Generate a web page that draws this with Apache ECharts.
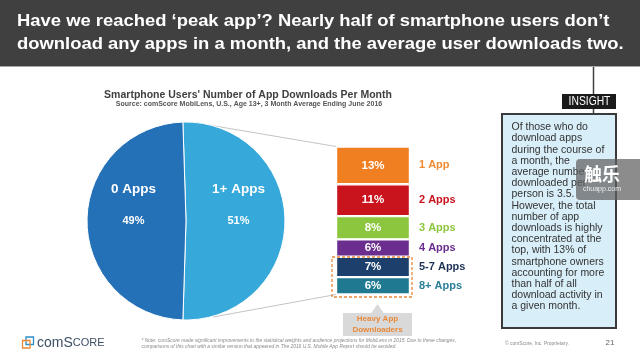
<!DOCTYPE html>
<html><head><meta charset="utf-8">
<script src="https://cdn.jsdelivr.net/npm/echarts@6/dist/echarts.min.js"></script>
<style>html,body{margin:0;padding:0;background:#fff}#c{width:640px;height:360px}</style>
</head><body><div id="c"></div>
<script>
const headerLines = ["Have we reached \u2018peak app\u2019? Nearly half of smartphone users don\u2019t", "download any apps in a month, and the average user downloads two."];
const chartTitle = "Smartphone Users' Number of App Downloads Per Month";
const chartSource = "Source: comScore MobiLens, U.S., Age 13+, 3 Month Average Ending June 2016";
const pieLabels = ["1+ Apps", "0 Apps"];
const pieValues = [51, 49];
const pieColors = ["#37a8da", "#2471b8"];
const bucketLabels = ["1 App", "2 Apps", "3 Apps", "4 Apps", "5-7 Apps", "8+ Apps"];
const bucketValues = [13, 11, 8, 6, 7, 6];
const bucketColors = ["#f07f22", "#c9141d", "#8cc63e", "#6b2e8f", "#1d3f6b", "#1f7a91"];
const bucketTextColors = ["#f08a33", "#c9141d", "#8cc63e", "#6b2e8f", "#1d3156", "#2a7f99"];
const insightLines = ["Of those who do","download apps","during the course of","a month, the","average number","downloaded per","person is 3.5.","However, the total","number of app","downloads is highly","concentrated at the","top, with 13% of","smartphone owners","accounting for more","than half of all","download activity in","a given month."];
const footNote = ["* Note: comScore made significant improvements to the statistical weights and audience projections for MobiLens in 2015. Due to these changes,", "comparisons of this chart with a similar version that appeared in The 2016 U.S. Mobile App Report should be avoided."];

const chart = echarts.init(document.getElementById('c'), null, {renderer: 'canvas'});
const FONT = 'Arial, "Liberation Sans", sans-serif';

function txt(x, y, text, font, fill, align, valign, extra, el) {
  return Object.assign({type: 'text', x: x, y: y, style: Object.assign({text: text, font: font, fill: fill, textAlign: align || 'left', align: align || 'left', textVerticalAlign: valign || 'middle', verticalAlign: valign || 'middle'}, extra || {})}, el || {});
}

const barSeries = bucketLabels.map((name, i) => ({
  type: 'bar', name: name, stack: 'b', barWidth: '100%',
  data: [bucketValues[i]],
  itemStyle: {color: bucketColors[i], borderColor: '#fff', borderWidth: 1.2},
  label: {
    show: true, position: [13, '50%'], align: 'left', verticalAlign: 'middle',
    formatter: '{p|' + bucketValues[i] + '%}{s|}{n|' + name + '}',
    rich: {
      p: {width: 48, align: 'center', color: '#fff', fontWeight: 'bold', fontSize: 11.5, fontFamily: FONT},
      s: {width: 22},
      n: {color: bucketTextColors[i], fontWeight: 'bold', fontSize: 11, fontFamily: FONT}
    }
  }
}));

const graphics = [
  {type: 'rect', shape: {x: 0, y: 0, width: 640, height: 66}, style: {fill: '#404040'}},
  {type: 'line', shape: {x1: 0, y1: 66.5, x2: 640, y2: 66.5}, style: {stroke: '#a8a8a8', lineWidth: 1.2}},
  txt(17, 9.5, headerLines.join('\n'), 'bold 17px ' + FONT, '#fff', 'left', 'top', {lineHeight: 23}, {scaleX: 1.083}),
  txt(248, 95, chartTitle, 'bold 10.5px ' + FONT, '#404040', 'center'),
  txt(249, 104.3, chartSource, 'bold 7px ' + FONT, '#555', 'center'),
  // connector lines
  {type: 'line', shape: {x1: 197, y1: 123, x2: 336, y2: 146.5}, style: {stroke: '#c4c4c4', lineWidth: 1}},
  {type: 'line', shape: {x1: 213, y1: 317, x2: 336, y2: 294.5}, style: {stroke: '#c4c4c4', lineWidth: 1}},
  // heavy downloaders
  {type: 'rect', shape: {x: 332, y: 257, width: 80, height: 40}, style: {fill: 'none', stroke: '#e8893a', lineWidth: 1.3, lineDash: [3, 2]}, z: 10},
  {type: 'polygon', shape: {points: [[371, 313.5], [377.5, 304], [384, 313.5]]}, style: {fill: '#d9d9d9'}},
  {type: 'rect', shape: {x: 343, y: 313, width: 69, height: 23}, style: {fill: '#d9d9d9'}},
  txt(377.5, 324.5, 'Heavy App\nDownloaders', 'bold 8px ' + FONT, '#e8893a', 'center', 'middle', {lineHeight: 10.5}),
  // insight
  {type: 'line', shape: {x1: 593.5, y1: 67, x2: 593.5, y2: 114}, style: {stroke: '#404040', lineWidth: 1.5}},
  {type: 'rect', shape: {x: 562, y: 94, width: 54, height: 15}, style: {fill: '#1a1a1a'}},
  txt(589.5, 102, 'INSIGHT', '12px ' + FONT, '#fff', 'center', 'middle', {}, {scaleX: 0.86}),
  {type: 'rect', shape: {x: 502, y: 114, width: 114, height: 214}, style: {fill: '#d8eef8', stroke: '#3a3a3a', lineWidth: 2}},
  txt(511.5, 121.7, insightLines.join('\n'), '10.5px ' + FONT, '#333', 'left', 'top', {lineHeight: 11.2}),
  // watermark
  {type: 'rect', shape: {x: 576, y: 159, width: 70, height: 41, r: 4}, style: {fill: 'rgba(95,95,95,0.72)'}},
  txt(602, 174, '\u89e6\u4e50', 'bold 18px "Noto Sans CJK SC", sans-serif', '#fff', 'center'),
  txt(602, 189, 'chuapp.com', '7px ' + FONT, '#eee', 'center'),
  // footer
  {type: 'rect', shape: {x: 26, y: 337, width: 7.5, height: 7.5}, style: {fill: 'none', stroke: '#2a8fc8', lineWidth: 1.3}},
  {type: 'rect', shape: {x: 22.5, y: 340.5, width: 7.5, height: 7.5}, style: {fill: 'none', stroke: '#e8893a', lineWidth: 1.3}},
  {type: 'text', x: 37, y: 343, style: {text: '{a|comS}{b|CORE}', verticalAlign: 'middle', textVerticalAlign: 'middle', rich: {a: {fontSize: 14, fontFamily: FONT, fill: '#3b4f66', color: '#3b4f66'}, b: {fontSize: 11, fontFamily: FONT, fill: '#3b4f66', color: '#3b4f66'}}}},
  txt(141.5, 343.5, footNote.join('\n'), 'italic 4.9px ' + FONT, '#8a8a8a', 'left', 'middle', {lineHeight: 6.7}),
  txt(505, 343.5, '\u00a9 comScore, Inc. Proprietary.', '4.9px ' + FONT, '#8a8a8a', 'left'),
  txt(610, 343, '21', '8px ' + FONT, '#666', 'center')
];

const option = {
  animation: false,
  backgroundColor: '#fff',
  grid: {left: 336, top: 146.5, width: 74, height: 148, containLabel: false},
  xAxis: {type: 'category', data: ['1+'], show: false},
  yAxis: {type: 'value', min: 0, max: 51, inverse: true, show: false},
  series: [
    {
      type: 'pie', center: [186, 221], radius: 99, startAngle: 91.8, clockwise: true,
      data: pieLabels.map((n, i) => ({name: n, value: pieValues[i], itemStyle: {color: pieColors[i]}})),
      itemStyle: {borderColor: '#fff', borderWidth: 1},
      label: {
        show: true, position: 'inside',
        formatter: p => '{a|' + p.name + '}\n{b|' + p.value + '%}\n{b| }',
        rich: {
          a: {color: '#fff', fontWeight: 'bold', fontSize: 13.5, lineHeight: 32, fontFamily: FONT},
          b: {color: '#fff', fontWeight: 'bold', fontSize: 11, lineHeight: 32, fontFamily: FONT}
        }
      },
      labelLine: {show: false}, emphasis: {disabled: true}, silent: true
    }
  ].concat(barSeries),
  graphic: graphics
};
chart.setOption(option);
</script></body></html>
